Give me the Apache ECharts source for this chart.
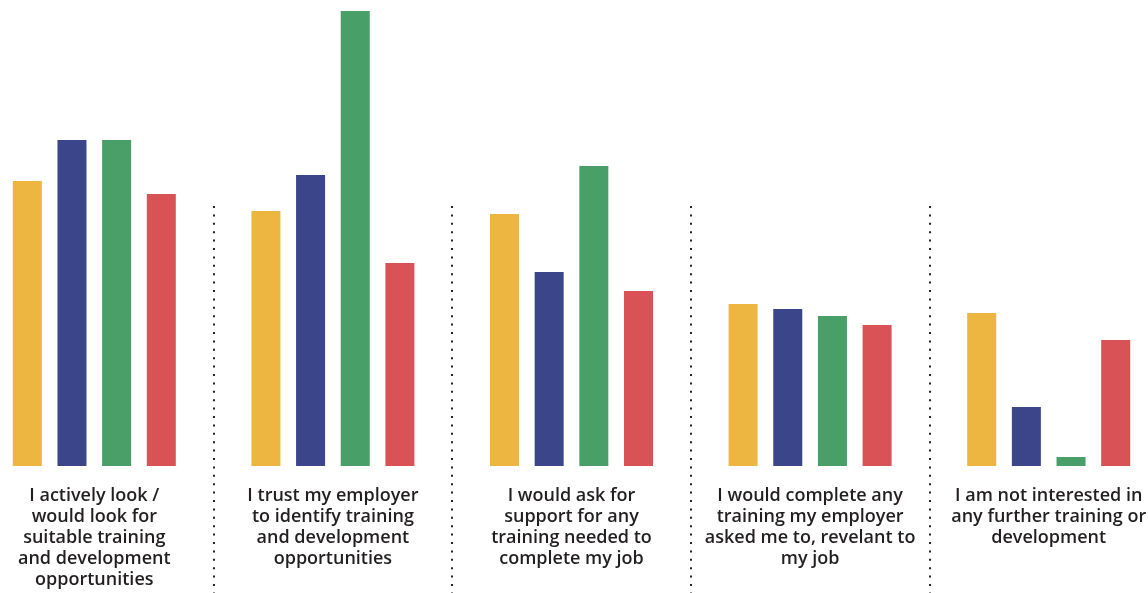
<!DOCTYPE html>
<html>
<head>
<meta charset="utf-8">
<style>
  html, body { margin: 0; padding: 0; background: #ffffff; overflow: hidden; }
  body { position: relative; width: 1148px; height: 593px; }
  /* the drawing area is a little wider than the page so the outer groups sit near the edges */
  #chart { position: absolute; left: -25px; top: 0; width: 1193px; height: 593px; }
</style>
<script src="https://cdn.jsdelivr.net/npm/echarts@6/dist/echarts.min.js"></script>
</head>
<body>
<div id="chart"></div>
<script>
// Survey statements (category labels, wrapped as printed)
const categories = [
  'I actively look /\nwould look for\nsuitable training\nand development\nopportunities',
  'I trust my employer\nto identify training\nand development\nopportunities',
  'I would ask for\nsupport for any\ntraining needed to\ncomplete my job',
  'I would complete any\ntraining my employer\nasked me to, revelant to\nmy job',
  'I am not interested in\nany further training or\ndevelopment'
];

// Share of respondents (%) for each of the four groups
const seriesA = [28.5, 25.5, 25.2, 16.2, 15.3];
const seriesB = [32.6, 29.1, 19.4, 15.7, 5.9];
const seriesC = [32.6, 45.5, 30.0, 15.0, 0.9];
const seriesD = [27.2, 20.3, 17.5, 14.1, 12.6];

const colors = ['#EDB641', '#3B4589', '#489F67', '#D95255'];

const chart = echarts.init(document.getElementById('chart'), null, { renderer: 'canvas' });

const barSeries = [seriesA, seriesB, seriesC, seriesD].map((vals, i) => ({
  type: 'bar',
  xAxisIndex: 0,
  yAxisIndex: 0,
  data: vals,
  barWidth: 29,
  barGap: '54%',
  itemStyle: { color: colors[i] },
  silent: true
}));

chart.setOption({
  animation: false,
  backgroundColor: '#ffffff',
  grid: [
    { left: 0, right: 0, top: 6, bottom: 127 },
    // lower band that carries the dotted separators between statements
    { left: 0, right: 0, top: 206, bottom: 0 }
  ],
  xAxis: [
    {
      type: 'category',
      gridIndex: 0,
      data: categories,
      axisLine: { show: false },
      axisTick: { show: false },
      splitLine: { show: false },
      axisLabel: {
        interval: 0,
        margin: 19,
        color: '#231f20',
        fontFamily: 'Open Sans',
        fontWeight: 600,
        fontSize: 18,
        lineHeight: 21,
        align: 'center'
      }
    },
    {
      type: 'category',
      gridIndex: 1,
      data: categories,
      axisLine: { show: false },
      axisTick: { show: false },
      axisLabel: { show: false },
      splitLine: {
        show: true,
        interval: 0,
        lineStyle: { color: '#222222', width: 2, type: [2, 6.4] }
      }
    }
  ],
  yAxis: [
    {
      type: 'value',
      gridIndex: 0,
      min: 0,
      max: 46,
      show: false
    },
    {
      type: 'value',
      gridIndex: 1,
      min: 0,
      max: 1,
      show: false
    }
  ],
  series: barSeries.concat([
    {
      type: 'bar',
      xAxisIndex: 1,
      yAxisIndex: 1,
      data: [],
      silent: true
    }
  ])
});
</script>
</body>
</html>
